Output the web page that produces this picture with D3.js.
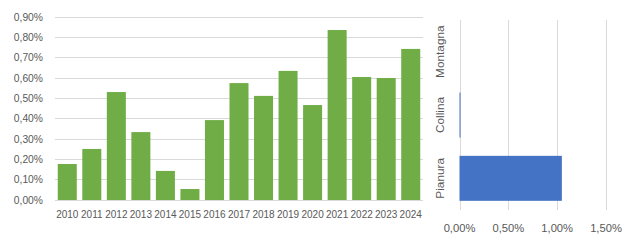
<!DOCTYPE html>
<html><head><meta charset="utf-8">
<script src="https://cdn.jsdelivr.net/npm/d3@7"></script>
<style>body{margin:0;background:#fff}svg{display:block}text{font-family:"Liberation Sans",Arial,sans-serif;fill:#595959}</style>
</head><body>
<svg id="c" width="630" height="240"></svg>
<script>
const years = ["2010","2011","2012","2013","2014","2015","2016","2017","2018","2019","2020","2021","2022","2023","2024"];
const yearValues = [0.00177,0.00251,0.00531,0.00334,0.00143,0.00054,0.00393,0.00575,0.00512,0.00635,0.00467,0.00836,0.00605,0.00600,0.00743];
const yTicks = [0,0.001,0.002,0.003,0.004,0.005,0.006,0.007,0.008,0.009];
const zones = ["Montagna","Collina","Pianura"];
const zoneValues = [0,0.0001,0.01048];
const xTicks = [0,0.005,0.01,0.015];

const loc = d3.formatLocale({decimal:",",thousands:".",grouping:[3],currency:["","€"]});
const pct = loc.format(".2%");
const svg = d3.select("#c");

// Left chart
const x = d3.scaleBand().domain(years).range([55,423]).paddingInner(0.225).paddingOuter(0.1125);
const y = d3.scaleLinear().domain([0,0.009]).range([200,17]);
const L = svg.append("g");
L.selectAll("line.g").data(yTicks).join("line")
  .attr("x1",55).attr("x2",423).attr("y1",d=>y(d)).attr("y2",d=>y(d))
  .attr("stroke","#d9d9d9").attr("stroke-width",1).attr("shape-rendering","crispEdges");
L.selectAll("rect").data(years).join("rect")
  .attr("x",d=>x(d)).attr("width",x.bandwidth())
  .attr("y",(d,i)=>y(yearValues[i])).attr("height",(d,i)=>y(0)-y(yearValues[i]))
  .attr("fill","#70ad47");
L.selectAll("text.yl").data(yTicks).join("text")
  .attr("x",43).attr("y",d=>y(d)).attr("dy","0.35em").attr("text-anchor","end")
  .attr("font-size","10.3px").text(d=>pct(d));
L.selectAll("text.xl").data(years).join("text")
  .attr("x",d=>x(d)+x.bandwidth()/2).attr("y",218).attr("text-anchor","middle")
  .attr("font-size","10px").text(d=>d);

// Right chart
const x2 = d3.scaleLinear().domain([0,0.015]).range([459.5,606]);
const y2 = d3.scaleBand().domain(zones).range([20,210]).paddingInner(0.29).paddingOuter(0.145);
const R = svg.append("g");
R.selectAll("line").data(xTicks).join("line")
  .attr("x1",d=>Math.round(x2(d))+0.5).attr("x2",d=>Math.round(x2(d))+0.5).attr("y1",20).attr("y2",210)
  .attr("stroke","#d9d9d9").attr("stroke-width",1);
R.selectAll("rect").data(zones).join("rect")
  .attr("y",d=>y2(d)).attr("height",y2.bandwidth())
  .attr("x",x2(0)).attr("width",(d,i)=>Math.max(0,x2(zoneValues[i])-x2(0)))
  .attr("fill","#4472c4");
R.selectAll("text.xl").data(xTicks).join("text")
  .attr("x",d=>x2(d)).attr("y",228).attr("dy","0.35em").attr("text-anchor","middle")
  .attr("font-size","11.2px").text(d=>pct(d));
R.selectAll("text.cl").data(zones).join("text")
  .attr("transform",d=>`translate(440,${y2(d)+y2.bandwidth()/2}) rotate(-90)`)
  .attr("dy","0.35em").attr("text-anchor","middle")
  .attr("font-size","11.8px").text(d=>d);
</script>
</body></html>
